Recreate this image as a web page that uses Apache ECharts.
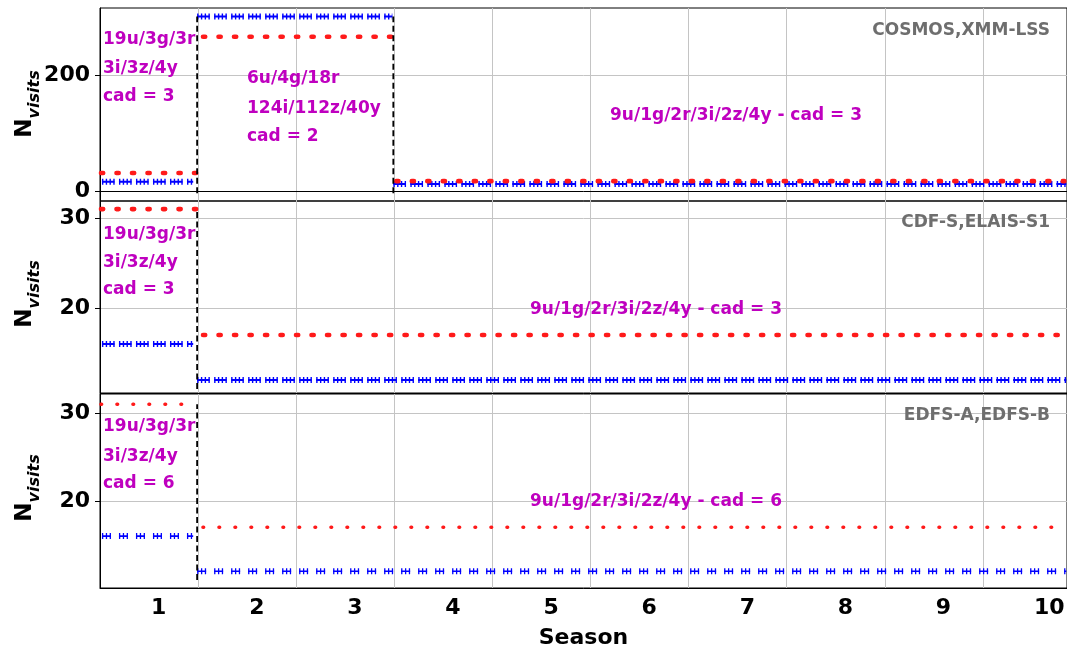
<!DOCTYPE html>
<html>
<head>
<meta charset="utf-8">
<script src="https://cdn.jsdelivr.net/npm/echarts@6/dist/echarts.min.js"></script>
<style>
  html, body { margin: 0; padding: 0; background: #fff; }
  #chart { width: 1067px; height: 647px; }
</style>
</head>
<body>
<div id="chart"></div>
<script>
// Season axis: labels sit inside each season, grid lines mark the season edges
const seasonLabels = ['1', '2', '3', '4', '5', '6', '7', '8', '9', '10'];
const seasonTicks = [1, 2, 3, 4, 5, 6, 7, 8, 9, 10];
const seasonEdges = [1.5, 2.5, 3.5, 4.5, 5.5, 6.5, 7.5, 8.5, 9.5];

// Deep-drilling field groups, one panel each
const fieldNames = ['COSMOS,XMM-LSS', 'CDF-S,ELAIS-S1', 'EDFS-A,EDFS-B'];
const yTickValues = [[0, 200], [20, 30], [20, 30]];
const yMin = [-17.2, 10.56, 10.1];
const yMax = [315.5, 31.9, 32.16];

// Visit levels per season range: [season from, season to, N_visits]
const redCosmos = [[0.51, 1.48, 31], [1.55, 3.48, 266], [3.52, 10.33, 17]];
const blueCosmos = [[0.52, 1.45, 16], [1.49, 3.48, 301], [3.49, 10.35, 12]];
const redCdfs = [[0.51, 1.48, 31], [1.55, 10.33, 17]];
const blueCdfs = [[0.52, 1.45, 16], [1.49, 10.35, 12]];
const redEdfs = [[0.51, 1.48, 31], [1.55, 10.33, 17]];
const blueEdfs = [[0.52, 1.45, 16], [1.49, 10.35, 12]];

// Strategy switch markers: [season, N_visits from, N_visits to]
const switchCosmos = [[1.49, -4, 301], [3.49, -4, 301]];
const switchCdfs = [[1.49, 11, 31]];
const switchEdfs = [[1.49, 11, 31]];

// Strategy annotations
const textCosmosS1 = ['19u/3g/3r', '3i/3z/4y', 'cad = 3'];
const textCosmosS23 = ['6u/4g/18r', '124i/112z/40y', 'cad = 2'];
const textCosmosRest = '9u/1g/2r/3i/2z/4y - cad = 3';
const textCdfsS1 = ['19u/3g/3r', '3i/3z/4y', 'cad = 3'];
const textCdfsRest = '9u/1g/2r/3i/2z/4y - cad = 3';
const textEdfsS1 = ['19u/3g/3r', '3i/3z/4y', 'cad = 6'];
const textEdfsRest = '9u/1g/2r/3i/2z/4y - cad = 6';

const FONT = '"DejaVu Sans", sans-serif';
const MAGENTA = '#bf00bf';

const redSets = [redCosmos, redCdfs, redEdfs];
const blueSets = [blueCosmos, blueCdfs, blueEdfs];
const switchSets = [switchCosmos, switchCdfs, switchEdfs];

// Marker looks: dense '+' clusters and red dots; the cad = 6 panel is sparser
const denseLook = {
  red: { width: 4.6, type: [2.2, 13.3] },
  blueBar: { width: 2, type: [12.5, 4.5] },
  blueTick: { width: 6, type: [1.4, 2.37, 1.4, 2.37, 1.4, 2.37, 1.4, 4.3] }
};
const markStyles = [
  denseLook,
  denseLook,
  { red: { width: 3.6, type: [0.6, 15.4] },
    blueBar: { width: 1.6, type: [9, 8] },
    blueTick: { width: 6, type: [1.3, 2.55, 1.3, 2.55, 1.3, 8] } }
];

const grids = [
  { left: 100, right: 0, top: 8, height: 193 },
  { left: 100, right: 0, top: 201, height: 192 },
  { left: 100, right: 0, top: 394, height: 194 }
].map(g => Object.assign(g, {
  show: true, borderColor: '#000', borderWidth: 1, backgroundColor: 'transparent',
  outerBoundsMode: 'none', containLabel: false
}));

const xAxes = [0, 1, 2].map(i => ({
  type: 'value', gridIndex: i, min: 0.5, max: 10.357,
  axisLine: { show: true, lineStyle: { color: '#000', width: 1 } },
  axisTick: { show: false, customValues: seasonEdges },
  splitLine: { show: true, lineStyle: { color: '#c4c4c4', width: 1 } },
  axisLabel: {
    show: i === 2, customValues: seasonTicks, align: 'left', padding: [0, 0, 0, 2],
    margin: 9, color: '#000', fontFamily: FONT, fontWeight: 'bold', fontSize: 22,
    formatter: v => seasonLabels[seasonTicks.indexOf(Math.round(v))] || ''
  },
  name: i === 2 ? 'Season' : '', nameLocation: 'middle', nameGap: 39,
  nameTextStyle: { color: '#000', fontFamily: FONT, fontWeight: 'bold', fontSize: 22 }
}));

const yAxes = [0, 1, 2].map(i => ({
  type: 'value', gridIndex: i, min: yMin[i], max: yMax[i],
  axisLine: { show: true, lineStyle: { color: '#000', width: 1 } },
  axisTick: { show: true, length: 5, customValues: yTickValues[i], lineStyle: { color: '#000' } },
  splitLine: { show: true, lineStyle: { color: '#c4c4c4', width: 1 } },
  axisLabel: {
    customValues: yTickValues[i], margin: 10, color: '#000',
    fontFamily: FONT, fontWeight: 'bold', fontSize: 22
  }
}));

const series = [];
function segment(i, x0, x1, v, lineStyle, z) {
  series.push({
    type: 'line', xAxisIndex: i, yAxisIndex: i, data: [[x0, v], [x1, v]],
    symbol: 'none', silent: true, animation: false, z: z,
    lineStyle: lineStyle
  });
}
for (let i = 0; i < 3; i++) {
  const st = markStyles[i];
  blueSets[i].forEach(([a, b, v]) => {
    segment(i, a, b, v, Object.assign({ color: '#0000ff', cap: 'butt' }, st.blueBar), 3);
    segment(i, a, b, v, Object.assign({ color: '#0000ff', cap: 'butt' }, st.blueTick), 3);
  });
  redSets[i].forEach(([a, b, v]) => {
    segment(i, a, b, v, Object.assign({ color: '#ff1a1a', cap: 'round' }, st.red), 4);
  });
  switchSets[i].forEach(([x, lo, hi]) => {
    series.push({
      type: 'line', xAxisIndex: i, yAxisIndex: i, data: [[x, lo], [x, hi]],
      symbol: 'none', silent: true, animation: false, z: 5,
      lineStyle: { color: '#000', width: 1.8, type: [6, 3.5] }
    });
  });
}

function label(text, x, y, opts) {
  return {
    type: 'text', x: x, y: y, z: 20, silent: true,
    style: Object.assign({
      text: text, fill: MAGENTA, font: 'bold 17px ' + FONT,
      align: 'left', verticalAlign: 'middle'
    }, opts || {})
  };
}
function block(lines, x, ys) {
  return lines.map((t, k) => label(t, x, ys[k]));
}
function yName(y) {
  return {
    type: 'text', x: 31, y: y, rotation: Math.PI / 2, z: 20, silent: true,
    style: {
      text: '{n|N}{s|visits}', align: 'center', verticalAlign: 'middle', fill: '#000',
      rich: {
        n: { fontFamily: FONT, fontWeight: 'bold', fontSize: 23, lineHeight: 24, padding: [0, 0, 6, 0], verticalAlign: 'bottom' },
        s: { fontFamily: FONT, fontWeight: 'bold', fontStyle: 'italic', fontSize: 16, lineHeight: 16, verticalAlign: 'bottom' }
      }
    }
  };
}
const fieldY = [31, 223, 416];

const graphic = [].concat(
  block(textCosmosS1, 103, [39.5, 68.5, 97]),
  block(textCosmosS23, 247, [78.5, 108.5, 137]),
  [label(textCosmosRest, 610, 115.5)],
  block(textCdfsS1, 103, [234.5, 263, 290]),
  [label(textCdfsRest, 530, 310)],
  block(textEdfsS1, 103, [427, 456.5, 483.5]),
  [label(textEdfsRest, 530, 502)],
  fieldNames.map((n, i) => label(n, 1050, fieldY[i], { align: 'right', fill: '#6e6e6e' })),
  [yName(104), yName(294), yName(488)]
);

const chart = echarts.init(document.getElementById('chart'), null, { renderer: 'canvas' });
chart.setOption({
  animation: false,
  backgroundColor: '#fff',
  grid: grids,
  xAxis: xAxes,
  yAxis: yAxes,
  series: series,
  graphic: graphic
});
</script>
</body>
</html>
